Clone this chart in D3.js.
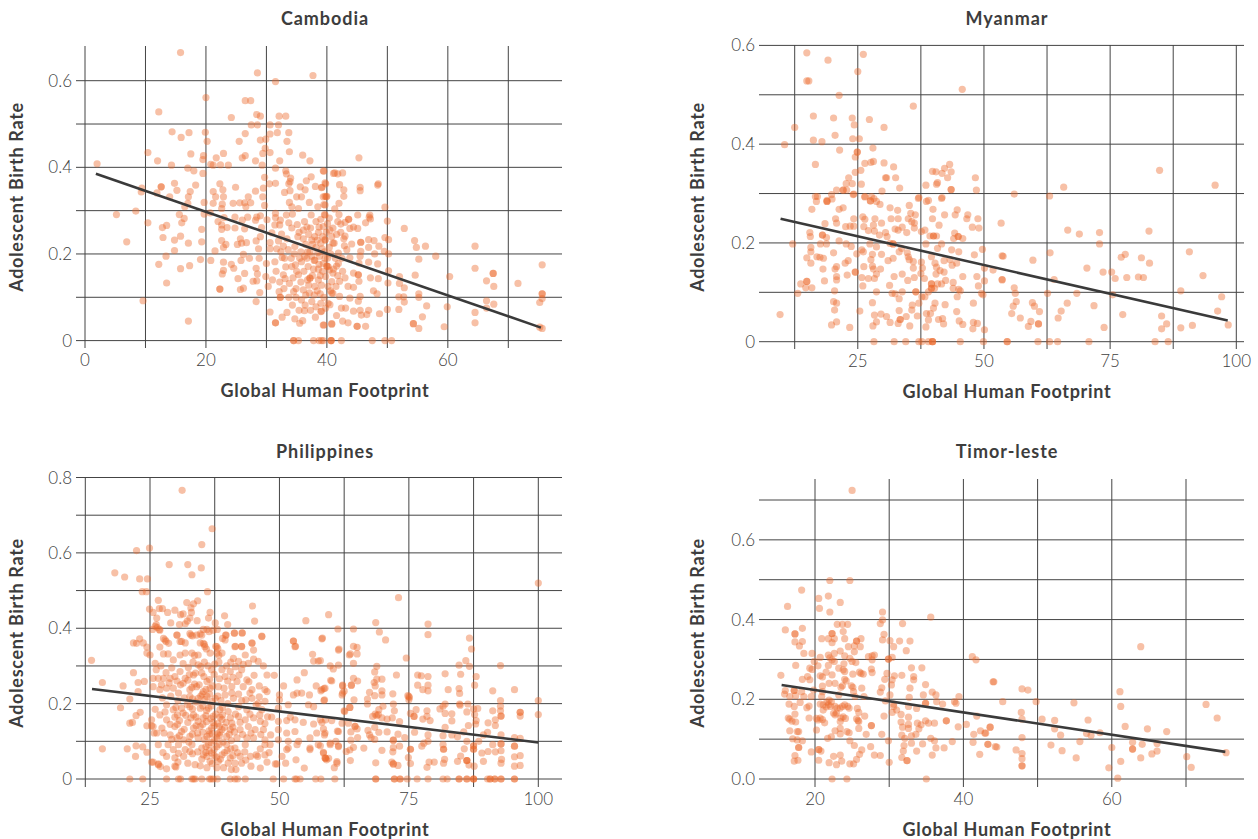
<!DOCTYPE html>
<html><head><meta charset="utf-8">
<script src="https://cdn.jsdelivr.net/npm/d3@7"></script>
<style>html,body{margin:0;background:#fff}svg{display:block}</style></head><body>
<svg id="c" width="1258" height="839"></svg>
<script>
const xLabel="Global Human Footprint", yLabel="Adolescent Birth Rate";
const cambodiaXTicks=[0,10,20,30,40,50,60,70], cambodiaXLabels=[0,20,40,60], cambodiaYTicks=[0,.1,.2,.3,.4,.5,.6], cambodiaYLabels=[0,.2,.4,.6];
const myanmarXTicks=[12.5,25,37.5,50,62.5,75,87.5,100], myanmarXLabels=[25,50,75,100], myanmarYTicks=[0,.1,.2,.3,.4,.5,.6], myanmarYLabels=[0,.2,.4,.6];
const philippinesXTicks=[12.5,25,37.5,50,62.5,75,87.5,100], philippinesXLabels=[25,50,75,100], philippinesYTicks=[0,.1,.2,.3,.4,.5,.6,.7,.8], philippinesYLabels=[0,.2,.4,.6,.8];
const timorXTicks=[20,30,40,50,60,70], timorXLabels=[20,40,60], timorYTicks=[0,.1,.2,.3,.4,.5,.6,.7], timorYLabels=[0,.2,.4,.6];
const cambodiaLine=[[1.8,.385],[75.4,.03]], myanmarLine=[[9.7,.249],[98.3,.043]], philippinesLine=[[13.8,.239],[100,.097]], timorLine=[[15.5,.236],[75.3,.068]];

const cambodiaPoints=[[15.8,.665],[28.5,.618],[37.7,.612],[31.5,.598],[20,.561],[26.5,.554],[27.4,.554],[12.2,.528],[28.4,.522],[29,.518],[32.1,.518],[33.2,.518],[24.2,.515],[27.5,.498],[28.5,.498],[30.6,.498],[32,.498],[14.4,.482],[17.2,.48],[19.9,.481],[15.9,.469],[20.2,.46],[26.5,.478],[30.6,.477],[31.8,.48],[33.7,.48],[25.5,.46],[29,.463],[29.9,.465],[33.4,.46],[10.4,.434],[12,.415],[14.3,.405],[17.5,.431],[19.6,.427],[19.5,.418],[21.7,.422],[22.9,.432],[20.8,.407],[21.2,.405],[22.4,.406],[23.7,.405],[26,.422],[26.5,.427],[28.2,.415],[29.3,.405],[29.8,.444],[29.4,.432],[30.6,.434],[32.2,.415],[33.8,.436],[36,.428],[37.2,.415],[2,.408],[17,.398],[18,.392],[19.5,.386],[31.5,.398],[33.2,.392],[33.3,.385],[29.7,.377],[39.5,.391],[41.1,.386],[34,.375],[33.9,.367],[37.4,.378],[36.6,.369],[14.8,.363],[18.3,.359],[22.3,.362],[24.9,.354],[12.6,.355],[12.6,.355],[15.2,.347],[9.4,.352],[9.3,.343],[11.9,.341],[17.4,.344],[21.2,.344],[22.8,.348],[28.2,.345],[29.5,.352],[30.5,.362],[31.5,.363],[33.7,.362],[35.6,.355],[38.1,.356],[39.1,.353],[39.8,.362],[36.4,.348],[33,.342],[33.9,.346],[14,.332],[17.1,.332],[21.6,.332],[22.9,.332],[27,.332],[29.4,.332],[35,.332],[35.8,.332],[39.4,.332],[39.9,.332],[19.7,.319],[17,.317],[21.2,.317],[22.7,.315],[24.5,.317],[25.6,.318],[26.4,.318],[27.4,.318],[29.7,.312],[33.8,.319],[37.1,.319],[34.2,.309],[35.3,.305],[38.5,.309],[39.7,.313],[16.5,.309],[22.6,.305],[26.6,.309],[5.2,.291],[8.4,.299],[15.6,.291],[10.4,.272],[16.4,.282],[16,.272],[13.5,.266],[12.8,.261],[19.7,.292],[20.7,.295],[23,.284],[24.8,.285],[26.9,.285],[28.4,.285],[29,.288],[28.2,.278],[30.1,.279],[31.5,.294],[31.5,.284],[32.3,.278],[33.3,.29],[34.3,.292],[37.4,.29],[39.7,.29],[22,.275],[26,.278],[33.7,.272],[35.1,.268],[36.3,.275],[22.6,.267],[19.3,.257],[22.6,.257],[23.5,.261],[24.8,.26],[26.4,.258],[29.2,.261],[31.4,.267],[32.2,.267],[12.9,.238],[15.8,.241],[14.8,.232],[6.9,.228],[19.3,.228],[17.1,.225],[22.6,.231],[23.3,.222],[22.9,.215],[25.2,.222],[25.7,.235],[25.9,.225],[26.7,.226],[28.3,.23],[29,.24],[30.6,.226],[32.5,.246],[30.9,.249],[36.1,.255],[37.5,.232],[38,.24],[39.4,.263],[39.7,.232],[40.5,.255],[34.7,.217],[14.8,.208],[13.4,.195],[21.5,.207],[26.2,.199],[28.7,.212],[30.6,.212],[31.7,.212],[32.8,.218],[19.1,.187],[20.8,.185],[22.9,.181],[12.2,.176],[15.8,.166],[17.3,.173],[24.2,.176],[24.6,.167],[25.8,.185],[27.2,.19],[28.8,.19],[30,.178],[31.4,.182],[32.6,.192],[34.2,.171],[35.8,.182],[36.9,.171],[38,.186],[40.2,.171],[39.7,.19],[22.9,.162],[22.7,.154],[26.4,.155],[28.3,.167],[28.5,.154],[29.9,.148],[32.8,.152],[35.3,.152],[37.2,.144],[37.2,.144],[25.3,.143],[28.4,.138],[27.8,.137],[33.8,.132],[38.6,.14],[40.8,.136],[13.5,.133],[22.3,.119],[22.3,.119],[26.2,.121],[25.7,.118],[30.3,.125],[28.9,.111],[32.1,.113],[32.3,.1],[32.3,.1],[34.5,.113],[36.1,.117],[9.6,.092],[28.3,.09],[35.8,.094],[34.3,.082],[37.5,.09],[39,.086],[40.2,.086],[41,.109],[30.6,.066],[32.6,.054],[31.5,.041],[31.5,.041],[34.7,.05],[36.3,.069],[38.1,.054],[39,.067],[17.1,.045],[36,.046],[35.5,.04],[39.4,.036],[40.8,.038],[34.5,0],[34.5,0],[35.3,0],[37.8,0],[38.7,0],[39.4,0],[40.7,0],[35.2,.24],[36.5,.222],[37.2,.205],[38.2,.215],[39,.225],[39.6,.205],[40.4,.215],[34.6,.2],[35.5,.19],[36.7,.19],[37.8,.165],[38.7,.176],[39.3,.16],[40.1,.19],[35,.16],[36.2,.16],[37,.128],[38,.125],[39.1,.128],[40.2,.125],[34.9,.12],[36.5,.105],[37.9,.105],[38.9,.108],[37.3,.26],[38.2,.275],[39,.28],[40.1,.27],[37,.245],[38.6,.25],[39.3,.24],[36.8,.205],[37.5,.195],[38.8,.195],[39.4,.178],[40.4,.163],
[33.6,.21],[34.1,.19],[33.2,.17],[34.8,.175],[35.7,.205],[36.1,.235],[37.6,.222],[38.4,.232],[39.2,.212],[40.6,.2],[41.4,.19],[41.2,.225],[41.6,.245],[40.8,.24],[38.5,.203],[37.9,.185],[38.6,.165],[39.8,.148],[41.1,.165],[41.8,.15],[41.5,.125],[40.6,.115],[39.5,.1],[38.4,.115],[37.1,.11],[36.8,.14],[35.7,.135],[34.4,.145],[33.1,.143],[32.9,.12],[33.7,.1],[34.9,.1],[36.4,.082],[38.2,.078],[39.8,.075],[37.3,.07],[35.4,.07],[33.4,.065],[37.6,.15],[38.9,.15],[36.3,.195],[39.9,.25],[38.7,.262],[36.7,.262],[35.4,.25],[34.2,.26],[33.4,.235],[32,.23],[32.4,.205],[33,.19],[31.6,.16],[31,.14],[32.2,.135],[41.9,.178],[42.6,.16],[42.5,.19],[42.8,.235],[42.3,.25],[41.8,.275],
[45.3,.422],[39.4,.392],[41.3,.387],[41.8,.385],[42.6,.387],[48.5,.362],[48.4,.359],[45.5,.354],[45.5,.346],[42.1,.36],[39.7,.364],[39.2,.354],[42.8,.348],[42.8,.333],[39.7,.333],[40,.333],[42,.317],[39.5,.314],[41.3,.304],[49.6,.308],[42,.291],[45.1,.29],[47.1,.29],[47,.285],[47.2,.281],[43.6,.28],[43.6,.28],[50,.276],[39.6,.291],[40.4,.283],[42.3,.269],[43,.273],[46.4,.272],[52.8,.259],[45.1,.259],[44.4,.262],[43.8,.259],[41,.26],[49.6,.238],[50.2,.233],[54.5,.231],[46.9,.233],[47.8,.231],[45.6,.227],[45.6,.227],[43,.241],[39.7,.233],[56.3,.218],[54.8,.215],[46.9,.215],[48.6,.218],[42.9,.219],[44.1,.223],[41,.225],[64.5,.218],[49.5,.206],[50.2,.2],[47.9,.2],[45.6,.206],[43.3,.21],[41.9,.202],[58,.195],[55.2,.188],[45.5,.195],[43.8,.191],[75.6,.175],[64.5,.167],[48.4,.177],[46.9,.181],[45.3,.179],[41.6,.172],[40,.172],[40,.172],[67.5,.155],[67.5,.155],[60.3,.148],[54.6,.151],[52,.148],[50.2,.161],[47.2,.145],[48.5,.143],[45.2,.152],[45.2,.152],[44.4,.156],[43,.145],[41,.156],[66.4,.138],[67.6,.125],[71.6,.132],[50.1,.133],[52,.132],[52.8,.122],[42.1,.137],[43.5,.125],[44.4,.123],[45.3,.137],[47.7,.115],[48.3,.108],[55.2,.108],[55.2,.1],[51.9,.101],[52.7,.101],[75.6,.108],[75.6,.108],[75.6,.097],[75.2,.088],[66.4,.092],[40.8,.11],[42.1,.102],[43.8,.098],[45.5,.102],[45.2,.091],[52.8,.089],[56.5,.08],[59.9,.078],[67.6,.084],[66.4,.075],[64.5,.065],[50,.072],[51.9,.072],[46.9,.07],[45.5,.07],[44.4,.068],[42.4,.075],[43.1,.075],[40.5,.083],[39.1,.068],[48.7,.062],[46.6,.06],[45.7,.059],[41.6,.058],[55.8,.055],[54.3,.039],[54.3,.039],[55.2,.028],[59.4,.032],[64.5,.041],[75.6,.028],[75.2,.031],[46.4,.033],[45,.033],[45,.033],[43.5,.041],[42.6,.045],[40.8,.039],[39.5,.036],[39.1,0],[40.7,0],[40.7,0],[42.4,0],[47.5,0],[49.6,0],[50.7,0]];

const myanmarPoints=[[14.9,.585],[19.1,.57],[26.1,.582],[25,.547],[14.9,.528],[15.3,.528],[21.3,.499],[45.7,.511],[36,.477],[16.2,.457],[20.2,.453],[23.9,.453],[27.3,.45],[24.3,.439],[12.5,.434],[30.2,.434],[20.5,.418],[16.2,.408],[17.9,.405],[24,.411],[25.3,.411],[10.5,.399],[21.4,.388],[28,.392],[24.9,.384],[24.9,.384],[24.5,.374],[16.6,.359],[26.4,.361],[27.6,.363],[28.1,.365],[30.2,.362],[32.1,.354],[43.2,.359],[42.2,.351],[39.8,.345],[40.5,.344],[41.7,.341],[43.5,.344],[42.8,.332],[48.3,.332],[25.6,.347],[24.5,.343],[23.2,.332],[22.7,.32],[23.9,.32],[25.7,.319],[30.5,.332],[30.7,.332],[32.5,.332],[38.5,.317],[40.6,.319],[40.8,.322],[33.3,.311],[43.5,.308],[43.5,.308],[48.5,.307],[29.8,.305],[20.8,.307],[22.1,.307],[22.1,.307],[22.8,.307],[19.8,.298],[24.1,.298],[16.6,.294],[17,.294],[26.4,.293],[27.7,.294],[28.2,.29],[37.1,.292],[41.7,.292],[39,.286],[18.9,.286],[16.8,.284],[18.9,.284],[18.9,.284],[19.9,.289],[24.2,.299],[26.4,.294],[27.5,.285],[27.5,.285],[28.7,.284],[29.4,.278],[31.4,.271],[32.9,.266],[35.2,.276],[37,.29],[38.6,.284],[41.6,.29],[39.9,.268],[15.9,.268],[21.3,.268],[22.1,.271],[35.5,.26],[36.4,.257],[44.7,.267],[44.3,.257],[42.2,.257],[46.8,.257],[46.6,.249],[48.8,.249],[39.8,.249],[20.6,.249],[20.8,.24],[24.2,.249],[26,.253],[26.4,.248],[28.4,.249],[31.6,.249],[33,.249],[35,.249],[35.7,.243],[36.2,.24],[18.5,.239],[22.6,.233],[23.5,.234],[24.2,.234],[26.2,.233],[28.1,.236],[29.7,.24],[41.1,.236],[47.7,.232],[49,.23],[53.4,.24],[33.8,.232],[33,.226],[32.4,.228],[36.2,.23],[27.1,.225],[28.3,.224],[34.7,.221],[30.5,.221],[37.6,.223],[38.3,.226],[15.5,.221],[15.6,.213],[18,.216],[18,.216],[18.8,.211],[29.3,.216],[30.8,.213],[39.3,.214],[40,.214],[40,.214],[40.6,.214],[44.2,.22],[44.9,.213],[44.9,.213],[45.8,.209],[44,.209],[12.1,.198],[17.6,.198],[18.8,.198],[21.3,.204],[22.7,.198],[23.7,.193],[27.4,.198],[28.7,.192],[31.4,.199],[32,.198],[32,.198],[38.5,.198],[41.6,.198],[40.8,.189],[33.7,.189],[15.7,.191],[15.7,.182],[20.2,.18],[25.8,.186],[24.8,.178],[26.1,.182],[27.9,.177],[29.7,.177],[33.2,.182],[34.8,.18],[43.6,.186],[45,.182],[49.7,.187],[48.1,.176],[53.6,.174],[14.9,.17],[16.9,.172],[17.5,.171],[18.2,.169],[15.7,.159],[23.1,.164],[22.5,.159],[27.6,.166],[31,.164],[32,.169],[35,.172],[35.2,.166],[36,.162],[37.6,.161],[39.6,.172],[42.1,.164],[43.3,.166],[43.7,.155],[44.6,.159],[40.3,.159],[18.1,.147],[20.5,.147],[20.8,.152],[26.2,.152],[27.9,.153],[28.1,.147],[29.5,.147],[36,.149],[37.8,.149],[40.6,.151],[41.3,.144],[50.1,.149],[51.8,.145],[24.5,.141],[24.5,.141],[22.9,.135],[20.8,.132],[20.8,.125],[25.8,.13],[27.1,.128],[28.3,.128],[28.7,.137],[32.2,.132],[33.8,.137],[36.2,.13],[37.5,.138],[40.5,.137],[42.1,.141],[45.8,.132],[48.6,.132],[53.6,.125],[14.9,.122],[14.9,.122],[13.7,.117],[14.7,.109],[15.9,.109],[18.4,.123],[34.9,.124],[38.2,.128],[42.4,.124],[41.6,.117],[40.8,.117],[39.6,.117],[39.6,.117],[31.3,.114],[26,.113],[43.9,.12],[48.9,.113],[50.1,.123],[13.1,.098],[20.4,.103],[28.7,.101],[31.8,.098],[32.4,.097],[33.8,.101],[36.5,.101],[36.5,.101],[39,.101],[39.6,.108],[39.6,.108],[40.2,.108],[45.3,.103],[43.9,.108],[45,.106],[49.5,.098],[33.2,.087],[37.7,.091],[38.3,.091],[44.7,.091],[49.8,.095],[20.2,.081],[20.8,.078],[27.9,.079],[37.1,.078],[35.8,.074],[40.3,.078],[42.3,.075],[47.9,.078],[20.4,.064],[25.4,.062],[33.2,.063],[35.7,.064],[40,.068],[44.6,.061],[38.6,.057],[39.4,.057],[9.6,.055],[28.3,.054],[29.6,.056],[30.7,.051],[34.6,.051],[36.8,.052],[39,.044],[33.4,.045],[33.4,.045],[41,.045],[41.8,.047],[45.1,.042],[47.9,.039],[48.7,.037],[20.8,.04],[19.8,.034],[23.4,.029],[28.7,.04],[28,.032],[31.4,.039],[33,.037],[35.3,.032],[38.5,.03],[42,.036],[45.8,.035],[47.8,.026],[50.1,.024],[28.2,0],[32.2,0],[34.5,0],[37.1,0],[37.7,0],[39,0],[39.8,0],[39.8,0],[39.8,0],[45.3,0],[49.9,0],
[84.8,.347],[95.8,.317],[65.8,.313],[56,.299],[63,.295],[66.6,.226],[68.9,.218],[72.9,.221],[72.9,.198],[82.7,.224],[90.7,.182],[63.1,.18],[59.7,.165],[53.8,.173],[77.2,.171],[78,.177],[81.2,.17],[82.8,.159],[70.4,.149],[73.6,.141],[75.3,.141],[76,.128],[78.3,.13],[80.6,.131],[81.6,.13],[93.4,.134],[53.6,.126],[63.9,.126],[56,.109],[56.2,.098],[62.6,.098],[68.4,.098],[75.5,.095],[89,.103],[97.1,.091],[56.4,.081],[55.8,.072],[59.6,.079],[60,.072],[61,.061],[66.5,.078],[65.3,.062],[71.8,.073],[55.5,.057],[57.2,.048],[59.3,.041],[58.8,.031],[60.8,.036],[60.8,.036],[64.7,.048],[73.8,.029],[77.5,.055],[85.2,.052],[86.2,.036],[85.2,.026],[89,.028],[91.3,.033],[96.3,.062],[98.4,.034],[54.6,0],[54.6,0],[60.7,0],[63,0],[64.6,0],[70.8,0],[83.9,0],[86.5,0]];

const philippinesPoints=[[31.2,.766],[37,.664],[35,.622],[24.9,.613],[22.4,.606],[28.7,.569],[32.3,.569],[34.9,.56],[33.1,.542],[18.2,.547],[20.1,.536],[23,.531],[24.5,.531],[23.5,.497],[24.3,.497],[36.1,.497],[26.6,.474],[32.1,.468],[34.2,.473],[33.4,.465],[24.9,.451],[26.8,.452],[27.4,.452],[29.8,.448],[28.4,.442],[32.9,.454],[33,.442],[36.6,.442],[44.8,.459],[25.6,.442],[30.9,.436],[31.4,.438],[39.4,.433],[36.3,.427],[45.2,.419],[55.1,.42],[26.3,.427],[32.7,.427],[29,.414],[30.7,.41],[31.8,.412],[32.2,.419],[34.1,.42],[37.6,.414],[40,.41],[26.2,.41],[26,.405],[26.4,.402],[25.5,.397],[26.8,.397],[35.3,.397],[36,.397],[36.4,.391],[38,.397],[30.2,.382],[32.7,.386],[33.2,.38],[34,.382],[35,.382],[39.6,.382],[41.3,.387],[42.8,.388],[46.6,.379],[39,.373],[39.5,.369],[27.6,.373],[28.1,.365],[28.6,.36],[23,.372],[21.8,.361],[30.8,.365],[31.8,.361],[34.7,.361],[35.5,.357],[37.7,.352],[38.1,.346],[41.5,.352],[42.7,.352],[44.7,.361],[52.7,.366],[53.1,.352],[26.9,.35],[23.7,.361],[24.4,.35],
[13.7,.315],[15.8,.256],[21.8,.282],[19.8,.247],[22.7,.256],[23.9,.259],[22.7,.232],[21.1,.212],[19.3,.189],[23.1,.177],[22.3,.168],[21.1,.148],[21.6,.15],[24.4,.141],[25.3,.141],[25.8,.122],[15.8,.08],[20.6,.08],[22.3,.088],[23.6,.085],[22.2,.06],[24.4,.071],[25.3,.045],[26.6,.038],[27,.033],[28.2,.027],[30,.032],[22.4,.36],[24.4,.334],
[21.1,0],[23.6,0],[28.2,0],[30.5,0],[30.9,0],[33.1,0],[33.4,0],[33.7,0],[35,0],[36.5,0],[36.8,0],[37.2,0],[38,0],[40.5,0],[41.4,0],[41.9,0],[43.4,0],[48.8,0],[50.8,0],[53,0],[53.3,0],[54,0],[57,0],
[100,.52],[73,.481],[59.5,.436],[68.6,.415],[78.7,.411],[61.3,.398],[64.3,.398],[69.3,.39],[78.7,.383],[58.3,.374],[70.5,.369],[86.7,.374],[87.1,.345],[61.5,.345],[64.3,.352],[65,.349],[63.7,.332],[65,.332],[74.5,.321],[57.9,.314],[86,.314],[59.8,.3],[61.4,.302],[60.4,.292],[64.3,.307],[68.8,.299],[68.4,.284],[84.7,.302],[86.7,.299],[92.7,.301],[72.6,.276],[76.7,.276],[77.4,.274],[78.7,.272],[82,.279],[85,.278],[88,.272],[59.9,.262],[64.3,.267],[65.1,.26],[68.8,.265],[69.8,.265],[68.3,.256],[68.5,.247],[63.9,.249],[63.9,.249],[62.2,.249],[76.7,.249],[78.7,.249],[87.7,.249],[58.6,.24],[58,.234],[69.8,.234],[77.7,.237],[78.7,.234],[82.6,.237],[84.7,.24],[84.8,.227],[91.2,.234],[95.4,.237],[62.5,.233],[62.1,.223],[67.4,.23],[68.4,.221],[69.8,.223],[71.9,.226],[75,.219],[75.1,.216],[74.8,.221],[75,.21],[58.7,.21],[64.4,.21],[67,.212],[67,.199],[72,.199],[82,.199],[81,.186],[81.6,.193],[84.8,.199],[84.9,.196],[86.4,.199],[92.7,.208],[100,.208],[63.6,.19],[63.6,.19],[62.5,.181],[70,.193],[69.2,.184],[72.2,.181],[76.4,.184],[78.5,.181],[82,.174],[83.3,.173],[86.2,.178],[88.3,.187],[87.5,.186],[91.2,.181],[92.7,.193],[92.7,.181],[96.5,.177],[96.5,.177],[100,.171],[68.8,.168],[69.1,.171],[68.5,.172],[68,.166],[69.8,.162],[70.8,.159],[71.8,.162],[73.2,.152],[75.3,.174],[76,.166],[76,.166],[77.7,.159],[78.5,.166],[79.1,.155],[87.7,.171],[88,.155],[91.7,.157],[92.8,.167],[92.8,.167],[96.5,.167],[57.9,.157],[58.9,.157],[60.1,.155],[62.1,.148],[63.3,.148],[64.6,.14],[64.6,.14],[83.3,.154],[86.5,.142],[87.9,.146],[90.3,.149],[91.7,.142],[58.5,.133],[61.2,.127],[63.8,.125],[65,.133],[67.1,.129],[68.4,.137],[69.2,.124],[70.8,.125],[76.1,.124],[82,.137],[58.7,.117],[67.4,.117],[67.7,.11],[68.4,.105],[65.1,.11],[63.8,.103],[72.9,.119],[74.2,.11],[78.7,.117],[81.6,.115],[83.3,.117],[84.4,.112],[85.6,.125],[89.4,.117],[90.2,.124],[92.8,.117],[95.4,.11],[96.5,.108],[59.8,.095],[60.9,.1],[57.9,.088],[61.4,.088],[72,.103],[72,.103],[78.7,.1],[77.9,.095],[77.5,.087],[81.6,.091],[86.2,.1],[87.5,.088],[87.5,.088],[88.5,.1],[91.2,.091],[92.8,.093],[92.8,.093],[95.4,.087],[95.4,.087],[62.9,.073],[63.6,.077],[64.3,.084],[66.3,.082],[69.8,.076],[71.9,.072],[72,.083],[73.2,.087],[75.3,.079],[75.3,.079],[81.7,.079],[81.7,.079],[85.7,.08],[87.5,.079],[87.5,.079],[89.1,.069],[90.3,.073],[91.7,.072],[92.8,.075],[58.5,.071],[58.9,.055],[58.9,.055],[59.5,.055],[61.1,.046],[63.7,.049],[68.6,.043],[71.7,.045],[72,.04],[72,.04],[72.9,.036],[74.9,.057],[75.3,.041],[78.9,.045],[79.9,.045],[81.9,.052],[81.7,.042],[84.4,.047],[85,.061],[86.2,.049],[86.2,.049],[86.2,.049],[86.6,.037],[87.6,.034],[89.4,.047],[92.9,.052],[92.8,.042],[95.4,.059],[96.5,.062],[95.4,.034],[96.5,.036],[78.5,.031],[60.6,.03],
[58,0],[60.7,0],[68.6,0],[68.6,0],[72.2,0],[72.2,0],[73.3,0],[73.3,0],[74.7,0],[76.6,0],[78.7,0],[81.6,0],[82.4,0],[84.7,0],[84.7,0],[86.2,0],[86.2,0],[87.5,0],[87.5,0],[87.5,0],[90.2,0],[90.7,0],[90.7,0],[91.6,0],[91.6,0],[92.8,0],[92.8,0],[95.4,0],[95.4,0],
[26.9,.395],[27.9,.369],[30.2,.382],[31.1,.365],[32.9,.382],[34.7,.385],[35.3,.36],[37.2,.395],[37.9,.351],[39.7,.382],[41.3,.387],[42.8,.387],[46.6,.378],[41.4,.351],[42.7,.351],[44.7,.36],[45,.342],[52.7,.366],[53,.351],[58.2,.372],[61.4,.342],[56.4,.331],[56.6,.313],[57.5,.313],[63.5,.329],[25,.329],[26,.307],[27.6,.332],[28.5,.332],[29.5,.316],[30.8,.329],[31.8,.334],[33.1,.334],[33.6,.328],[34.3,.329],[35.6,.351],[35.9,.345],[36.6,.334],[37.9,.334],[38.3,.328],[38.9,.334],[41.1,.32],[42.1,.312],[43.4,.329],[44,.307],[45,.318],[45.9,.312],[26.6,.267],[25.6,.267],[27.6,.267],[28.9,.267],[29.8,.272],[30.8,.285],[31.8,.267],[32.3,.262],[33.4,.276],[33.8,.281],[34.3,.303],[34.8,.298],[35,.281],[36,.259],[36.5,.264],[36.9,.29],[38.9,.29],[39.5,.272],[40.5,.285],[42.7,.29],[43.7,.263],[44.1,.258],[44.7,.237],[46.1,.247],[47.2,.237],[47.6,.232],[47.6,.276],[49,.275],[54.8,.282],[53.4,.263],[50.8,.247],[57.1,.247],[60.1,.26],[62.2,.247],[25.6,.245],[26.9,.237],[28.2,.241],[29.5,.241],[30.5,.228],[31.4,.254],[30.9,.25],[32.7,.237],[33.1,.243],[34,.245],[34.5,.25],[33.6,.252],[35.3,.232],[35.8,.238],[36.6,.241],[37.1,.247],[38.2,.245],[39.3,.241],[40.8,.245],[41.8,.259],[43,.245],[44.3,.228],[32.7,.219],[33.2,.213],[34.3,.214],[34.8,.22],[36,.219],[35.6,.211],[36.5,.225],[37.6,.214],[38.1,.22],[39.5,.223],[41.1,.214],[42.7,.208],[44.7,.214],[45.9,.201],[47.2,.206],[50,.223],[50,.21],[52.7,.223],[53.4,.228],[54.3,.228],[55.8,.223],[58.2,.237],[58.8,.241],[62.2,.228],[26,.185],[28.2,.197],[29.5,.184],[30,.19],[31.1,.188],[32.7,.192],[33.2,.186],[32.2,.198],[34.7,.188],[35.2,.194],[36.3,.188],[36.8,.194],[35.9,.182],[38.5,.184],[39,.19],[40.1,.179],[42.1,.192],[43.7,.184],[45.5,.197],[46.6,.184],[48.5,.164],[49.8,.188],[51.7,.197],[52.1,.164],[55.6,.197],[56.6,.192],[58.6,.208],[62.6,.179],[25.3,.157],[28.2,.157],[29.8,.164],[30.3,.17],[31.4,.175],[31.9,.169],[33.4,.17],[33.9,.164],[32.9,.162],[35.3,.162],[35.8,.168],[37.2,.166],[37.7,.172],[36.7,.16],[38.5,.164],[39,.17],[38.9,.158],[40.5,.162],[42.1,.166],[41.5,.172],[43.4,.157],[45,.162],[46.3,.153],[47.2,.147],[49.8,.153],[51.4,.155],[53,.157],[54.6,.15],[56.6,.146],[58.2,.15],[25.6,.139],[27.3,.135],[29.8,.139],[30.3,.145],[31.1,.126],[31.6,.132],[33.4,.135],[33.9,.141],[34.7,.139],[35.2,.145],[36.9,.135],[37.4,.141],[36.4,.128],[38.9,.131],[39.4,.137],[38.4,.14],[38.5,.124],[40.5,.131],[41,.138],[42.4,.131],[44,.139],[45.3,.131],[46.9,.131],[49.8,.131],[51.4,.122],[53,.126],[57.2,.122],[58.8,.122],[61.4,.126],[26.3,.122],[28.9,.117],[30.2,.109],[30.7,.115],[32.7,.113],[33.2,.119],[34.3,.109],[36,.113],[36.5,.119],[35.5,.105],[37.9,.109],[38.4,.115],[37.4,.102],[39.8,.113],[40.3,.119],[41.8,.109],[43.7,.109],[45,.109],[47.2,.104],[49.8,.104],[51.7,.1],[53.7,.1],[55.9,.109],[26.6,.091],[28.5,.091],[30.5,.091],[33.1,.091],[35,.082],[36.3,.091],[36.8,.097],[35.8,.086],[37.9,.086],[38.4,.092],[37.4,.079],[39.8,.091],[41.4,.082],[43.4,.091],[47.2,.091],[48.2,.091],[51.7,.082],[53.4,.091],[55.9,.082],[57.5,.091],[59.8,.091],[61.4,.086],[28.2,.06],[29.8,.056],[31.8,.078],[32.7,.073],[33.2,.067],[35.3,.064],[35.8,.07],[36.9,.069],[37.4,.063],[36.4,.075],[38.9,.064],[39.4,.07],[40.5,.056],[41,.062],[42.4,.06],[45.5,.064],[45.8,.06],[47.2,.064],[50.5,.06],[51.4,.078],[55.9,.078],[58.5,.069],[58.8,.056],[25.6,.045],[26.6,.04],[29.8,.034],[33.7,.038],[36.6,.047],[37,.041],[38.2,.047],[38.6,.053],[40.1,.042],[41.4,.042],[42.7,.042],[41.6,.025],[44.5,.034],[46.3,.029],[49.2,.04],[49.5,.04],[51.2,.042],[53.2,.051],[54.8,.029],[59.1,.051],[61.1,.042],
[26.2,.29],[27.1,.3],[28.1,.282],[29.2,.295],[31.4,.306],[32.4,.296],[33.3,.31],[35.5,.31],[36.2,.3],[37.5,.305],[38.3,.31],[39.8,.3],[40.6,.31],[41.5,.298],[43,.304],[46.9,.3],[27.2,.25],[28.7,.255],[30.2,.26],[32.6,.277],[35.4,.272],[37.4,.278],[38.4,.266],[40,.26],[41,.27],[42.2,.276],[45.1,.275],[27.4,.215],[29,.22],[30.4,.208],[31.6,.215],[33.9,.204],[35.1,.225],[37,.206],[38.7,.208],[40,.2],[40.8,.228],[42.1,.225],[43.5,.21],[46.1,.218],[26.9,.17],[27.9,.178],[28.9,.145],[30.7,.155],[32.3,.15],[34.3,.153],[35.9,.152],[37.2,.15],[38.1,.147],[39.7,.15],[40.8,.148],[42.4,.15],[44.3,.172],[46.2,.17],[47.7,.165],[27.7,.122],[29.2,.105],[31.5,.104],[32.5,.098],[34.2,.122],[35.2,.124],[37,.12],[38,.12],[39.1,.098],[40.7,.102],[41.3,.125],[42.9,.118],[44.5,.122],[46.4,.118],[48.3,.117],[27.5,.07],[29.5,.078],[30.5,.068],[31.5,.06],[34.2,.072],[35,.053],[36,.06],[37.8,.058],[39.9,.075],[40.6,.08],[41.9,.07],[43.3,.072],[44.4,.06],[46.3,.08],[48,.07],[30.4,.045],[32.3,.042],[34.7,.035],[36,.03],[37.9,.03],[39.2,.03],[40.7,.025],[43.5,.05],[47.6,.045]];

const timorPoints=[[25,.724],[22,.498],[24.7,.498],[18.2,.474],[20.5,.453],[21.8,.459],[23.4,.443],[16.3,.433],[20.6,.428],[22,.419],[29.1,.419],[29.1,.399],[28.8,.39],[31.8,.39],[35.6,.406],[23,.388],[23.7,.388],[24.4,.388],[23.8,.37],[16,.374],[18.3,.378],[17.3,.364],[17.3,.364],[22.3,.365],[22.3,.365],[20.9,.352],[21.8,.352],[22.6,.352],[24,.352],[26.2,.352],[29.3,.363],[29.1,.349],[30.1,.347],[31.4,.346],[32.8,.346],[17.3,.344],[18.3,.345],[17.9,.334],[22.3,.342],[25.6,.346],[25.6,.346],[24.5,.332],[25.3,.334],[26.1,.332],[30.6,.332],[32.3,.322],[18.5,.315],[19.6,.315],[20.7,.305],[21.8,.311],[22.6,.315],[23.4,.321],[24,.309],[25.3,.319],[27.2,.307],[27.7,.309],[28,.311],[24.7,.303],[22.3,.299],[22.6,.295],[22,.304],[29.9,.301],[29.9,.301],[30.4,.305],[19.9,.295],[25,.295],[25.5,.292],[27.7,.299],[41.2,.307],[41.7,.299],[17.4,.285],[21.8,.285],[20.4,.284],[23.2,.278],[23.9,.289],[19.3,.278],[19.6,.275],[27.6,.276],[27.7,.267],[26,.268],[26.2,.265],[26.5,.263],[25.1,.263],[23.8,.274],[24,.27],[34.4,.279],[33,.279],[29.7,.265],[30.7,.259],[31.7,.26],[33.3,.257],[15.4,.26],[22.3,.261],[20.7,.259],[21,.256],[21.5,.268],[19,.257],[18.3,.25],[19.3,.249],[29.4,.25],[30.4,.249],[33.3,.249],[44,.244],[24,.25],[24.2,.246],[21,.233],[21.9,.24],[22.7,.24],[23.5,.23],[23.7,.234],[24.9,.234],[25.1,.23],[26.3,.228],[29,.229],[30.3,.236],[32.8,.228],[34.9,.237],[17.2,.222],[17.2,.222],[16,.222],[15.9,.213],[18.2,.219],[19.8,.223],[21,.219],[25.2,.219],[28.8,.218],[30.1,.211],[32.7,.205],[34.6,.211],[35.8,.218],[36.3,.211],[39.4,.207],[38.8,.194],[39,.19],[34.9,.19],[34.9,.19],[36.4,.194],[37.2,.188],[16.6,.207],[17.4,.209],[18.5,.207],[19.5,.207],[20.9,.207],[23.2,.211],[25.4,.207],[26.6,.207],[16.5,.188],[18,.192],[18.9,.179],[19.2,.183],[17.2,.182],[21.9,.198],[22.2,.194],[21.6,.193],[21.8,.186],[22.1,.182],[21.5,.181],[22.7,.182],[23,.178],[23.7,.182],[24,.186],[23.4,.178],[24.4,.182],[24.6,.178],[20.7,.188],[21.1,.186],[25.7,.177],[29.5,.196],[30.6,.188],[30.6,.182],[32.6,.182],[33.7,.177],[17.3,.163],[16.4,.153],[16.6,.15],[16.9,.145],[17.4,.143],[19.2,.153],[20.2,.152],[20.4,.148],[20.7,.153],[21,.149],[21.3,.141],[21.1,.173],[22.5,.165],[22.7,.161],[22.9,.165],[23.8,.156],[24.1,.152],[23.5,.153],[23.4,.144],[25.9,.167],[26.7,.158],[25.6,.151],[25.8,.147],[25.9,.144],[29.3,.158],[30.4,.167],[31,.173],[31.6,.162],[32.6,.155],[31.6,.143],[32.6,.137],[31.8,.13],[33.8,.14],[34.9,.146],[34.3,.136],[35.3,.14],[36.1,.14],[37.7,.146],[37.7,.146],[41.8,.158],[39.3,.131],[40.4,.137],[20.2,.123],[16.6,.121],[17.6,.119],[17.8,.119],[22.7,.121],[23.4,.127],[24.3,.119],[24.6,.116],[25.9,.127],[27.6,.134],[27.6,.134],[32.6,.127],[34,.126],[17,.101],[17.6,.098],[18.3,.096],[21.7,.102],[22.2,.106],[23.4,.113],[24.7,.096],[26.9,.112],[29,.112],[29.9,.096],[31.7,.11],[32.1,.102],[33,.108],[33.6,.112],[41.4,.112],[42.3,.121],[43,.115],[43.6,.13],[17.8,.079],[17.8,.079],[25.3,.084],[27.5,.081],[32,.084],[33,.09],[34.5,.088],[35.6,.102],[36.1,.096],[38.5,.094],[41.3,.092],[43.3,.087],[36.3,.078],[37.4,.078],[44.3,.081],[20.5,.074],[20.5,.074],[20.8,.07],[19.5,.068],[17.3,.059],[26.3,.073],[26,.062],[31.9,.07],[33.7,.07],[35.8,.06],[42.2,.062],[17.7,.047],[17.2,.045],[20.5,.047],[22.5,.057],[23.4,.06],[21.9,.041],[22.9,.036],[23.6,.045],[24.7,.038],[25.2,.038],[25.6,.049],[28,.06],[28.8,.059],[30,.042],[31.7,.054],[32.4,.046],[32.4,.046],[22.3,0],[24.3,0],[35,0],
[63.9,.332],[44.1,.244],[47.9,.226],[48.7,.223],[61.1,.219],[45.3,.194],[49.8,.194],[54.9,.191],[61.2,.182],[72.7,.187],[47.8,.167],[47.9,.15],[50.6,.15],[52.3,.147],[56.8,.148],[74.2,.153],[43.6,.13],[52.3,.126],[61.8,.132],[64.8,.126],[67.4,.119],[58.4,.116],[56.6,.114],[57.2,.109],[42.9,.115],[53.1,.11],[47.9,.104],[55.7,.094],[62.8,.092],[64.1,.087],[66.1,.089],[43.3,.087],[44.5,.08],[51.8,.085],[47.1,.073],[53.3,.071],[60,.079],[62.8,.075],[62.8,.075],[66.1,.07],[65.4,.063],[47.9,.064],[47.9,.051],[47.9,.033],[47.9,.033],[55.2,.053],[63.9,.053],[70.1,.056],[75.4,.066],[61.2,.044],[59.6,.028],[70.7,.029],[60.8,.002]];

const font="Lato, sans-serif", textDark="#3d3d3d", tickText="#3f3f3f", gridColor="#444", dotColor="#ec6a2c";
const svg=d3.select("#c");
const fmt=d=>d===0?"0":d3.format(".1f")(d);

function panel(o){
  const x=d3.scaleLinear().domain(o.xd).range(o.xr), y=d3.scaleLinear().domain(o.yd).range(o.yr);
  const g=svg.append("g");
  const xa=d3.axisBottom(x).tickValues(o.xt).tickSizeInner(-(o.bottom-o.top)).tickSizeOuter(0).offset(0).tickFormat("");
  g.append("g").attr("transform",`translate(0,${o.bottom})`).call(xa);
  const ya=d3.axisRight(y).tickValues(o.yt).tickSizeInner(-(o.right-o.left)).tickSizeOuter(0).offset(0).tickFormat("");
  g.append("g").attr("transform",`translate(${o.right},0)`).call(ya);
  g.selectAll(".domain").remove();
  g.selectAll(".tick line").attr("stroke",gridColor).attr("stroke-width",1);
  g.selectAll("circle").data(o.pts).join("circle").attr("cx",d=>x(d[0])).attr("cy",d=>y(d[1])).attr("r",3.6).attr("fill",dotColor).attr("fill-opacity",.42);
  g.append("path").attr("d",d3.line().x(d=>x(d[0])).y(d=>y(d[1]))(o.line)).attr("stroke","#3a3a3a").attr("stroke-width",2.6).attr("fill","none");
  g.selectAll(".xl").data(o.xl).join("text").text(d=>d).attr("x",d=>x(d)).attr("y",o.bottom+18).attr("text-anchor","middle").attr("font-family",font).attr("font-size",17).attr("font-weight",300).attr("fill",tickText);
  g.selectAll(".yl").data(o.yl).join("text").text(d=>o.fmt(d)).attr("x",o.left-4).attr("y",d=>y(d)+6).attr("text-anchor","end").attr("font-family",font).attr("font-size",17).attr("font-weight",300).attr("fill",tickText);
  const bold=(s,a,b,t,ls)=>g.append("text").text(s).attr("text-anchor","middle").attr("font-family",font).attr("font-weight",700).attr("font-size",18).attr("letter-spacing",ls).attr("fill",textDark).attr("transform",`translate(${a},${b})${t}`);
  bold(o.title,o.cx,o.top0+6," ",.95);
  bold(xLabel,o.cx,o.bottom+49," ",.7);
  bold(yLabel,o.yx,o.ylc," rotate(-90)",.7);
}
panel({title:"Cambodia",pts:cambodiaPoints,line:cambodiaLine,xd:[0,70],xr:[85,508.3],yd:[0,.6],yr:[340.6,80.7],xt:cambodiaXTicks,yt:cambodiaYTicks,xl:cambodiaXLabels,yl:cambodiaYLabels,left:76,right:562,top:46,bottom:348,top0:19,cx:325,yx:23,ylc:197,fmt});
panel({title:"Myanmar",pts:myanmarPoints,line:myanmarLine,xd:[12.5,100],xr:[794.7,1236.3],yd:[0,.6],yr:[341.7,45.4],xt:myanmarXTicks,yt:myanmarYTicks,xl:myanmarXLabels,yl:myanmarYLabels,left:759,right:1244,top:45,bottom:349,top0:19,cx:1007,yx:704,ylc:197,fmt});
panel({title:"Philippines",pts:philippinesPoints,line:philippinesLine,xd:[12.5,100],xr:[85.3,538.3],yd:[0,.8],yr:[779,477.5],xt:philippinesXTicks,yt:philippinesYTicks,xl:philippinesXLabels,yl:philippinesYLabels,left:76,right:562,top:478,bottom:787,top0:452,cx:325,yx:23,ylc:633,fmt});
panel({title:"Timor-leste",pts:timorPoints,line:timorLine,xd:[20,70],xr:[815,1186],yd:[0,.7],yr:[779,500],xt:timorXTicks,yt:timorYTicks,xl:timorXLabels,yl:timorYLabels,left:759,right:1244,top:479,bottom:787,top0:452,cx:1007,yx:704,ylc:633,fmt:d=>d3.format(".1f")(d)});
</script></body></html>
